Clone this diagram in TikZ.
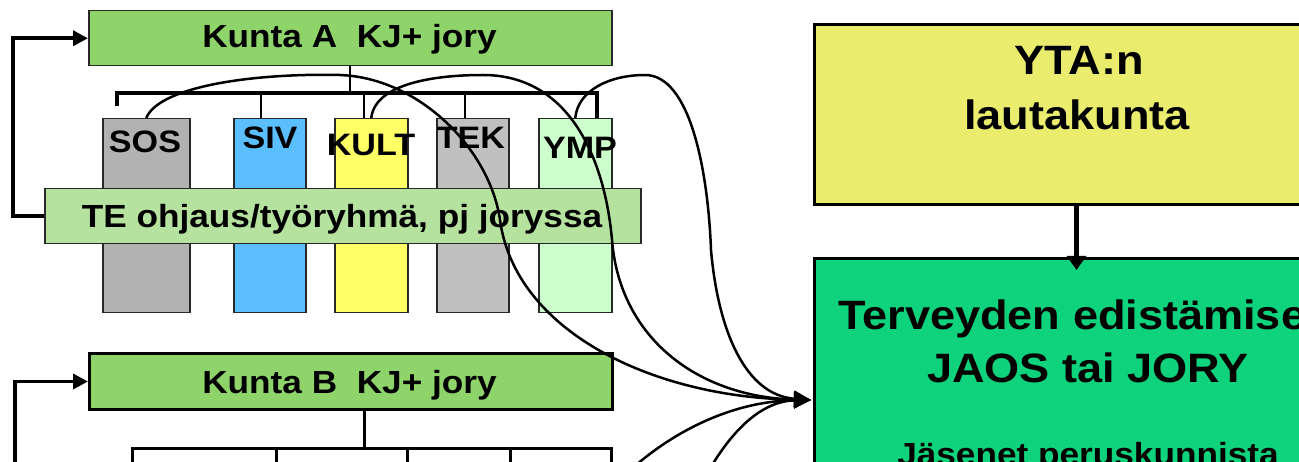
\documentclass[tikz,border=0pt]{standalone}
\usepackage{fontspec}
\setmainfont{Liberation Sans}[FakeStretch=1.1]
\usetikzlibrary{arrows.meta,calc}
\definecolor{kuntafill}{RGB}{143,212,106}
\definecolor{tefill}{RGB}{181,226,158}
\definecolor{sosfill}{RGB}{178,178,178}
\definecolor{sivfill}{RGB}{91,191,255}
\definecolor{kultfill}{RGB}{255,255,102}
\definecolor{tekfill}{RGB}{192,192,192}
\definecolor{ympfill}{RGB}{204,255,204}
\definecolor{ytafill}{RGB}{233,236,109}
\definecolor{joryfill}{RGB}{14,211,124}
\definecolor{edgegray}{RGB}{40,40,40}
\begin{document}
\begin{tikzpicture}[x=1pt,y=-1pt,
  box/.style={draw=edgegray, line width=1.5pt, inner sep=0pt, anchor=north west},
  dept/.style={box, minimum height=194pt},
  lbl/.style={anchor=base, inner sep=0pt, text=black, font=\bfseries\fontsize{32}{38}\selectfont},
  deptlbl/.style={anchor=base, inner sep=0pt, text=black, font=\bfseries\fontsize{31}{36}\selectfont},
  biglbl/.style={anchor=base, inner sep=0pt, text=black, font=\bfseries\fontsize{41}{48}\selectfont},
  fb/.style={draw=black, line width=3.5pt, -{Triangle[length=15pt,width=15pt]}},
  curve/.style={draw=black, line width=2.5pt, -{Triangle[length=17pt,width=16pt]}},
  busline/.style={draw=black, line width=3.5pt},
  dropline/.style={draw=black, line width=2.5pt}]
\useasboundingbox (0,0) rectangle (1299,462);
\clip (0,0) rectangle (1299,462);
\fill[white] (0,0) rectangle (1299,462);

% departments of Kunta A
\node[dept, fill=sosfill,  minimum width=87pt] (sos)  at (102,118) {};
\node[dept, fill=sivfill,  minimum width=72pt] (siv)  at (233,118) {};
\node[dept, fill=kultfill, minimum width=73pt] (kult) at (334,118) {};
\node[dept, fill=tekfill,  minimum width=72pt] (tek)  at (436,118) {};
\node[dept, fill=ympfill,  minimum width=73pt] (ymp)  at (538,118) {};

% TE box
\node[box, fill=tefill, minimum width=596pt, minimum height=55pt] (te) at (44,188) {};
\node[lbl] (telbl) at (342,228) {TE ohjaus/työryhmä, pj joryssa};

% Kunta A
\node[box, fill=kuntafill, minimum width=523pt, minimum height=55pt] (kuntaA) at (88,10) {};
\node[lbl] (kuntaAlbl) at (349.5,48) {Kunta A\ \ KJ+ jory};

% department labels
\node[deptlbl] (soslbl)  at (145,153) {SOS};
\node[deptlbl] (sivlbl)  at (270,149) {SIV};
\node[deptlbl] (kultlbl) at (371,156) {KULT};
\node[deptlbl] (teklbl)  at (471,149) {TEK};
\node[deptlbl] (ymplbl)  at (580,159) {YMP};

% bus of Kunta A
\coordinate (busAl) at (117,93);
\coordinate (busAr) at (597,93);
\draw[draw=black, line width=2pt] (kuntaA.south) -- (kuntaA.south |- busAl);
\draw[busline] ($(busAl)+(0,13)$) -- (busAl) -- (busAr) -- (busAr |- ymp.north);
\coordinate (dsiv) at (261,93);
\coordinate (dkult) at (364,93);
\coordinate (dtek) at (465,93);
\draw[dropline] (dsiv) -- (dsiv |- siv.north);
\draw[dropline] (dkult) -- (dkult |- kult.north);
\draw[dropline] (dtek) -- (dtek |- tek.north);

% Kunta B
\node[box, draw=black, line width=3pt, fill=kuntafill, minimum width=523pt, minimum height=56pt] (kuntaB) at (88,352) {};
\node[lbl] (kuntaBlbl) at (349.5,393) {Kunta B\ \ KJ+ jory};
\coordinate (bot) at (0,480);
\coordinate (busBtop) at (364,448);
\coordinate (busBl) at (132,448);
\coordinate (busBr) at (611,448);
\draw[draw=black, line width=3pt] (busBtop |- kuntaB.south) -- (busBtop);
\draw[draw=black, line width=3pt] (busBl |- bot) -- (busBl) -- (busBr) -- (busBr |- bot);
\coordinate (dB1) at (276,448);
\coordinate (dB2) at (407,448);
\coordinate (dB3) at (510,448);
\draw[draw=black, line width=3pt] (dB1) -- (dB1 |- bot);
\draw[draw=black, line width=3pt] (dB2) -- (dB2 |- bot);
\draw[draw=black, line width=3pt] (dB3) -- (dB3 |- bot);

% feedback arrows
\draw[fb] (te.west) -- ++(-31,0) |- (kuntaA.west);
\coordinate (bfeed) at (15,480);
\draw[fb] (bfeed) |- (kuntaB.west);

% right side
\node[box, draw=black, line width=3pt, fill=ytafill, minimum width=524pt, minimum height=180pt] (yta) at (813,23) {};
\node[box, draw=black, line width=3pt, fill=joryfill, minimum width=524pt, minimum height=260pt] (jory) at (813,257) {};
\node[biglbl] (ytal1) at (1079,75) {YTA:n};
\node[biglbl] (ytal2) at (1077,130) {lautakunta};
\node[biglbl] (joryl1) at (1086,330) {Terveyden edistämisen};
\node[biglbl] (joryl2) at (1088,383) {JAOS tai JORY};
\node[lbl] (joryl3) at (1088,465) {Jäsenet peruskunnista};
\draw[draw=black, line width=5.5pt, -{Triangle[length=14pt,width=19pt]}, shorten >=-13pt] (yta.south) -- (jory.north);

% curves to the JAOS/JORY
\coordinate (hub) at ($(jory.north west)+(-2,143)$);
\draw[curve] (sos.north) .. controls (160,85) and (260,73) .. (340,75)
  .. controls (420,78) and (490,150) .. (500,220)
  .. controls (515,330) and (650,397) .. (hub);
\draw[curve] (kult.north) .. controls (375,85) and (430,75) .. (483,75)
  .. controls (570,75) and (605,160) .. (612,240)
  .. controls (620,340) and (700,397) .. (hub);
\draw[curve] (ymp.north) .. controls (578,90) and (610,75) .. (645,75)
  .. controls (690,75) and (708,170) .. (711,250)
  .. controls (718,330) and (745,395) .. (hub);
\coordinate (cB1) at (628,472);
\coordinate (cB2) at (708,472);
\draw[curve] (cB1) .. controls (680,425) and (740,401) .. (hub);
\draw[curve] (cB2) .. controls (735,425) and (765,401) .. (hub);
\end{tikzpicture}
\end{document}
